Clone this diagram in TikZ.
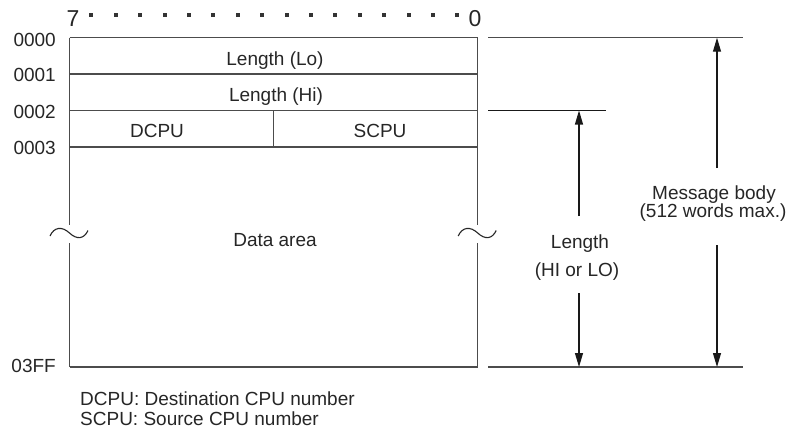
\documentclass[tikz,border=0pt]{standalone}
\usepackage{fontspec}
\setmainfont{Liberation Sans}
\usetikzlibrary{arrows.meta,positioning}

\begin{document}
\begin{tikzpicture}[
    x=1pt, y=-1pt,
    frame/.style={draw=black!70, line width=1.1pt},
    dimline/.style={draw=black!90, line width=1.1pt},
    span/.style={-{Triangle[length=14pt,width=8pt]}, dimline},
    lbl/.style={font=\fontsize{19}{22}\selectfont, text=black!85, inner sep=0pt, anchor=base},
    bitno/.style={lbl, font=\fontsize{23}{26}\selectfont},
    addr/.style={lbl, anchor=base east},
    note/.style={lbl, anchor=base west},
    wave/.style={draw=black!85, line width=1.1pt},
]
    \useasboundingbox (0,0) rectangle (792,439);

    % bit numbers
    \node[bitno] (bit7) at (73,26) {7};
    \node[bitno] (bit0) at (475,26) {0};
    \foreach \i in {0,...,15}
        \fill[black!80] (91.3+24.4*\i-2,15.3-2) rectangle ++(4,4);

    % corners of the frame
    \coordinate (tl) at (69.5,37.7);
    \coordinate (tr) at (477.7,37.7);
    \coordinate (bl) at (69.5,367);
    \coordinate (br) at (477.7,367);
    \coordinate (r1l) at (69.5,74);    \coordinate (r1r) at (477.7,74);
    \coordinate (r2l) at (69.5,110.5); \coordinate (r2r) at (477.7,110.5);
    \coordinate (r3l) at (69.5,147);   \coordinate (r3r) at (477.7,147);
    \coordinate (midT) at (273.3,110.5);
    \coordinate (midB) at (273.3,147);
    \coordinate (lgapT) at (69.5,225);  \coordinate (lgapB) at (69.5,243.3);
    \coordinate (rgapT) at (477.7,225); \coordinate (rgapB) at (477.7,243.3);

    \draw[frame] (tl) -- (tr);
    \draw[frame] (r1l) -- (r1r);
    \draw[frame] (r2l) -- (r2r);
    \draw[frame] (r3l) -- (r3r);
    \draw[frame] (bl) -- (br);
    \draw[frame] (midT) -- (midB);
    \draw[frame] (tl) -- (lgapT);
    \draw[frame] (lgapB) -- (bl);
    \draw[frame] (tr) -- (rgapT);
    \draw[frame] (rgapB) -- (br);

    % break marks
    \foreach \dx in {0,408.2}
        \draw[wave] (50+\dx,236) .. controls (54+\dx,227) and (62+\dx,226) .. (69.5+\dx,233)
            .. controls (77+\dx,240) and (84+\dx,239) .. (88+\dx,230.5);

    % addresses
    \node[addr] (a0) at (56,46) {0000};
    \node[addr] (a1) at (56,81.7) {0001};
    \node[addr] (a2) at (56,118) {0002};
    \node[addr] (a3) at (56,154.5) {0003};
    \node[addr] (a4) at (56,372.7) {03FF};

    % fields
    \node[lbl] (lenLo) at (275,65) {Length (Lo)};
    \node[lbl] (lenHi) at (276,101.7) {Length (Hi)};
    \node[lbl] (dcpu) at (157,137.7) {DCPU};
    \node[lbl] (scpu) at (380,137.7) {SCPU};
    \node[lbl] (data) at (275,246.7) {Data area};

    % extension lines
    \coordinate (e1a) at (488,37.7);  \coordinate (e1b) at (743,37.7);
    \coordinate (e2a) at (488,110.5); \coordinate (e2b) at (606,110.5);
    \coordinate (e3a) at (488,367);   \coordinate (e3b) at (743,367);
    \draw[frame] (e1a) -- (e1b);
    \draw[dimline] (e2a) -- (e2b);
    \draw[frame] (e3a) -- (e3b);

    % length span
    \node[lbl] (len1) at (580,248) {Length};
    \node[lbl] (len2) at (577,276.7) {(HI or LO)};
    \coordinate (lenUp) at (579,216);
    \coordinate (lenTop) at (579,110.5);
    \coordinate (lenDn) at (579,293);
    \coordinate (lenBot) at (579,367);
    \draw[span] (lenUp) -- (lenTop);
    \draw[span] (lenDn) -- (lenBot);

    % message body span
    \node[lbl] (msg1) at (714,199) {Message body};
    \node[lbl] (msg2) at (713,217.7) {(512 words max.)};
    \coordinate (msgUp) at (717,168);
    \coordinate (msgTop) at (717,37.7);
    \coordinate (msgDn) at (717,245);
    \coordinate (msgBot) at (717,367);
    \draw[span] (msgUp) -- (msgTop);
    \draw[span] (msgDn) -- (msgBot);

    % notes
    \node[note] (n1) at (80,405.7) {DCPU: Destination CPU number};
    \node[note] (n2) at (80,425) {SCPU: Source CPU number};
\end{tikzpicture}
\end{document}
